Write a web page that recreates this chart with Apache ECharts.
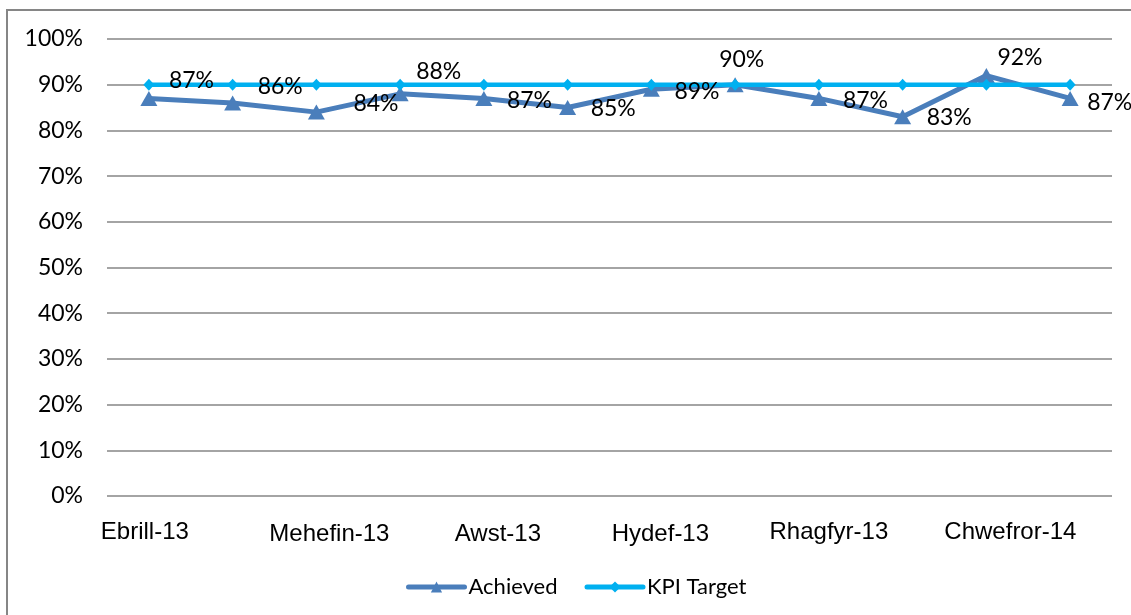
<!DOCTYPE html>
<html>
<head>
<meta charset="utf-8">
<script src="https://cdn.jsdelivr.net/npm/echarts@6/dist/echarts.min.js"></script>
<style>
html,body{margin:0;padding:0;background:#fff;}
#c{width:1131px;height:615px;}
</style>
</head>
<body>
<div id="c"></div>
<script>
const categories = ['Ebrill-13','Mai-13','Mehefin-13','Gorffennaf-13','Awst-13','Medi-13','Hydef-13','Tachwedd-13','Rhagfyr-13','Ionawr-14','Chwefror-14','Mawrth-14'];
const achieved = [87, 86, 84, 88, 87, 85, 89, 90, 87, 83, 92, 87];
const kpiTarget = [90, 90, 90, 90, 90, 90, 90, 90, 90, 90, 90, 90];
const yTicks = [0, 10, 20, 30, 40, 50, 60, 70, 80, 90, 100];

// label placement offsets (styling only): [dx from marker edge, dy]
const labelShift = [[13,-18],[18,-16],[30,-9],[9,-22],[16,2],[16,1],[16,2],[-23,-25],[17,2],[17,1],[4,-18],[10,4]];
// x-axis label nudges (styling only): [dx, dy]
const tickShift = [[-4,-4],[0,0],[13,1],[0,0],[14,1],[0,0],[9,1],[0,0],[10,-3],[0,0],[24,-6],[0,0]];

const rich = {};
tickShift.forEach((s, i) => {
  const dx = s[0], dy = s[1];
  rich['t' + i] = {
    fontFamily: 'Liberation Sans', fontSize: 24, color: '#000',
    padding: [Math.max(0, 2 * dy), dx > 0 ? 0 : -2 * dx, Math.max(0, -2 * dy), dx > 0 ? 2 * dx : 0]
  };
});

const chart = echarts.init(document.getElementById('c'));
const labelFont = 'Lato';
const labelStyle = {
  show: true, position: 'right', distance: 0,
  formatter: '{c}%', color: '#000', fontFamily: labelFont, fontSize: 23
};
chart.setOption({
  animation: false,
  backgroundColor: '#fff',
  graphic: [{
    type: 'rect',
    shape: {x: 7, y: 10, width: 1140, height: 620},
    style: {fill: 'none', stroke: '#868686', lineWidth: 2},
    silent: true, z: -1
  }],
  grid: {left: 107, right: 19, top: 39, bottom: 119, containLabel: false},
  legend: {
    left: 401, top: 571,
    itemWidth: 56, itemHeight: 14, itemGap: 27,
    lineStyle: {width: 5, cap: 'round'},
    textStyle: {fontFamily: labelFont, fontSize: 22, color: '#000', padding: [0,0,0,-1]},
    data: ['Achieved', 'KPI Target']
  },
  xAxis: {
    type: 'category',
    data: categories,
    boundaryGap: true,
    axisLine: {show: false},
    axisTick: {show: false},
    axisLabel: {
      interval: 1, margin: 24, color: '#000', fontFamily: 'Liberation Sans', fontSize: 24,
      formatter: (v, i) => '{t' + i + '|' + v + '}',
      rich: rich
    }
  },
  yAxis: {
    type: 'value',
    min: yTicks[0], max: yTicks[yTicks.length - 1], interval: yTicks[1] - yTicks[0],
    axisLine: {show: false},
    axisTick: {show: false},
    splitLine: {lineStyle: {color: '#868686', width: 1.5}},
    axisLabel: {formatter: '{value}%', margin: 24, color: '#000', fontFamily: labelFont, fontSize: 23}
  },
  series: [{
    name: 'Achieved',
    type: 'line',
    data: achieved,
    symbol: 'triangle',
    symbolSize: [17, 15],
    itemStyle: {color: '#4a7ebb'},
    lineStyle: {color: '#4a7ebb', width: 5},
    z: 2
  }, {
    name: 'KPI Target',
    type: 'line',
    data: kpiTarget,
    symbol: 'diamond',
    symbolSize: [11, 12],
    itemStyle: {color: '#00b0f0'},
    lineStyle: {color: '#00b0f0', width: 4.5},
    z: 3
  }, {
    name: 'AchievedLabels',
    type: 'line',
    data: achieved.map((v, i) => ({value: v, label: {offset: labelShift[i]}})),
    symbol: 'triangle',
    symbolSize: [14, 14],
    itemStyle: {color: 'rgba(0,0,0,0)'},
    lineStyle: {width: 0, opacity: 0},
    label: labelStyle,
    silent: true,
    z: 5
  }]
});
</script>
</body>
</html>
